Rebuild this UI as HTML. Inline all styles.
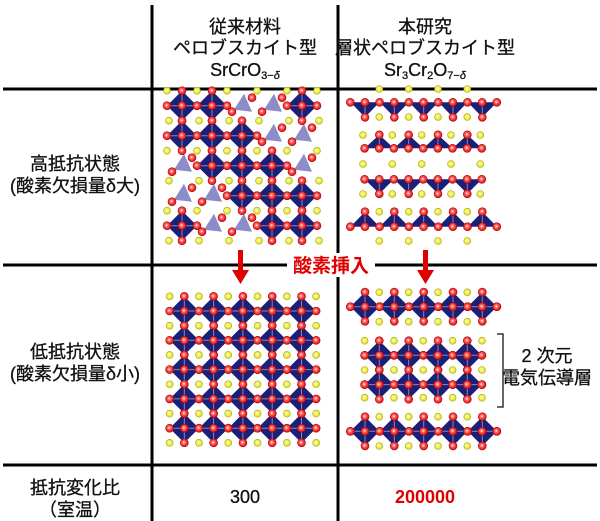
<!DOCTYPE html>
<html><head><meta charset="utf-8">
<style>
body{margin:0;background:#fff;}
svg{display:block;}
text{font-family:"Liberation Sans","Noto Sans CJK JP",sans-serif;fill:#111;}
</style></head><body>
<svg id="s" width="600" height="521" xmlns="http://www.w3.org/2000/svg">
<defs>
<radialGradient id="rg" cx="0.45" cy="0.45" r="0.6"><stop offset="0" stop-color="#fff"/><stop offset="0.35" stop-color="#ff6060"/><stop offset="1" stop-color="#d00000"/></radialGradient>
<radialGradient id="yg" cx="0.45" cy="0.45" r="0.6"><stop offset="0" stop-color="#ffffc0"/><stop offset="1" stop-color="#d8d800"/></radialGradient>
</defs>
<g id="grid" stroke="#000" stroke-width="3">
<line x1="152" y1="5" x2="152" y2="521"/>
<line x1="338" y1="5" x2="338" y2="521"/>
<line x1="3" y1="89" x2="597" y2="89"/>
<line x1="3" y1="265" x2="597" y2="265"/>
<line x1="3" y1="465" x2="597" y2="465"/>
</g>
<g id="d"></g>
<rect x="287" y="253" width="88" height="24" fill="#fff"/>
<text x="331" y="272" font-size="19" font-weight="bold" text-anchor="middle" style="fill:#e00000">酸素挿入</text>
<g fill="#e00000" stroke="none">
<rect x="238" y="250" width="5" height="22"/><polygon points="232,270 249,270 240.5,284"/>
<rect x="423" y="250" width="5" height="22"/><polygon points="417,270 434,270 425.5,284"/>
</g>
<g font-size="18" text-anchor="middle" stroke="#111" stroke-width="0.3">
<text x="245" y="33">従来材料</text>
<text x="245" y="54">ペロブスカイト型</text>
<text x="245" y="76">SrCrO<tspan font-size="11" dy="3">3−</tspan><tspan font-size="11" font-style="italic">δ</tspan></text>
<text x="425" y="33">本研究</text>
<text x="425" y="54">層状ペロブスカイト型</text>
<text x="425" y="76">Sr<tspan font-size="11" dy="3">3</tspan><tspan dy="-3">Cr</tspan><tspan font-size="11" dy="3">2</tspan><tspan dy="-3">O</tspan><tspan font-size="11" dy="3">7−</tspan><tspan font-size="11" font-style="italic">δ</tspan></text>
<text x="75" y="170">高抵抗状態</text>
<text x="75" y="192">(酸素欠損量δ大)</text>
<text x="75" y="358">低抵抗状態</text>
<text x="75" y="380">(酸素欠損量δ小)</text>
<text x="75" y="494">抵抗変化比</text>
<text x="75" y="516">（室温）</text>
<text x="245" y="503">300</text>
<text x="425" y="503" font-weight="bold" stroke="none" style="fill:#e00000">200000</text>
<text x="547" y="362">2 次元</text>
<text x="547" y="384">電気伝導層</text>
</g>
<path d="M497,334 H503 V407 H497" fill="none" stroke="#333" stroke-width="1.5"/>
</svg>
<script>
var g=document.getElementById('d'),h='';
function O(x,y){h+='<circle cx="'+x+'" cy="'+y+'" r="4" fill="url(#rg)" stroke="#b00" stroke-width="0.6"/>';}
function Y(x,y){h+='<circle cx="'+x+'" cy="'+y+'" r="3.5" fill="url(#yg)" stroke="#aa0" stroke-width="0.6"/>';}
function P(pts,c){h+='<polygon points="'+pts+'" fill="'+(c||'#1a1f78')+'"/>';}
var oc=[];
function oct(x,y,a){P((x-a)+','+y+' '+x+','+(y-a)+' '+(x+a)+','+y+' '+x+','+(y+a));
 h+='<path d="M'+(x-a)+','+y+'H'+(x+a)+'M'+x+','+(y-a)+'V'+(y+a)+'" stroke="#8a8ab0" stroke-width="1"/>';
 oc.push([x,y-a],[x,y+a],[x-a,y],[x+a,y],[x,y]);}
var s=29.3,x0=184.3,y0=311;
for(var i=0;i<=5;i++)for(var j=0;j<=5;j++)Y(x0-s/2+j*s,y0-s/2+i*s);
for(var i=0;i<5;i++)for(var j=0;j<5;j++)oct(x0+j*s,y0+i*s,s/2);
var pat=["OOTTO","OOOTT","TOOOT","TTOOO","OTTOO"];
s=30;x0=182;y0=105.7;
for(var i=0;i<=5;i++)for(var j=0;j<=5;j++){Y(x0-s/2+j*s+(i%2?2:0),y0-s/2+i*s);}
for(var i=0;i<5;i++)for(var j=0;j<5;j++){var x=x0+j*s,y=y0+i*s;
 if(pat[i][j]=='O')oct(x,y,s/2);
 else{P((x-8)+','+(y+4)+' '+(x+2)+','+(y-12)+' '+(x+10)+','+(y+6),'#8c8cc8');
  oc.push([x-10,y+6],[x+10,y-8]);}}
oc.forEach(function(p){O(p[0],p[1]);});oc=[];
var cx=[365,394.3,423.7,453,482.3];
function chain(y,xs,x1,x2,dir,apex){
 for(var k=0;k<xs.length;k++){var x=xs[k];P((x-14.6)+','+y+' '+(x+14.6)+','+y+' '+x+','+(y+dir*apex));
  h+='<line x1="'+x+'" y1="'+y+'" x2="'+x+'" y2="'+(y+dir*apex)+'" stroke="#8a8ab0"/>';}
 for(var x=x1;x<=x2+1;x+=14.65)oc.push([x,y]);
 xs.forEach(function(x){oc.push([x,y+dir*apex]);});}
var cx2=[379.3,408.7,438,467.3];
[379.3,408.7,438,467.3].forEach(function(x){Y(x,89)});
chain(102.3,cx,350.3,497.7,1,15);
[379.3,408.7,438,467.3].forEach(function(x){Y(x,117)});
[363,392.3,421.7,451,480.3].forEach(function(x){Y(x,135)});
chain(148.3,cx2,364.6,482,-1,13.5);
[363,392.3,421.7,451,480.3].forEach(function(x){Y(x,164)});
chain(179.3,cx2,364.6,482,1,14.5);
[363,392.3,421.7,451,480.3].forEach(function(x){Y(x,194)});
[379.3,408.7,438,467.3].forEach(function(x){Y(x,211.7)});
chain(226.7,cx,350.3,497.7,-1,15);
[379.3,408.7,438,467.3].forEach(function(x){Y(x,241)});
oc.forEach(function(p){O(p[0],p[1]);});oc=[];
[379.3,408.7,438,467.3].forEach(function(x){Y(x,292.3);Y(x,321.7);});
cx.forEach(function(x){oct(x,306.7,14.6)});
for(var x=350.3;x<=499;x+=14.65)oc.push([x,306.7]);
[364.6,394,423.3,452.6,482].forEach(function(x){Y(x,340.7);Y(x,370);Y(x,397.7);});
cx2.forEach(function(x){oct(x,355.3,14.6);oct(x,384.6,14.6);});
for(var x=364.6;x<=483;x+=14.65){oc.push([x,355.3]);oc.push([x,384.6]);}
[379.3,408.7,438,467.3].forEach(function(x){Y(x,416.7);Y(x,446);});
cx.forEach(function(x){oct(x,431.3,14.6)});
for(var x=350.3;x<=499;x+=14.65)oc.push([x,431.3]);
oc.forEach(function(p){O(p[0],p[1]);});
g.innerHTML=h;
</script>
</body></html>
